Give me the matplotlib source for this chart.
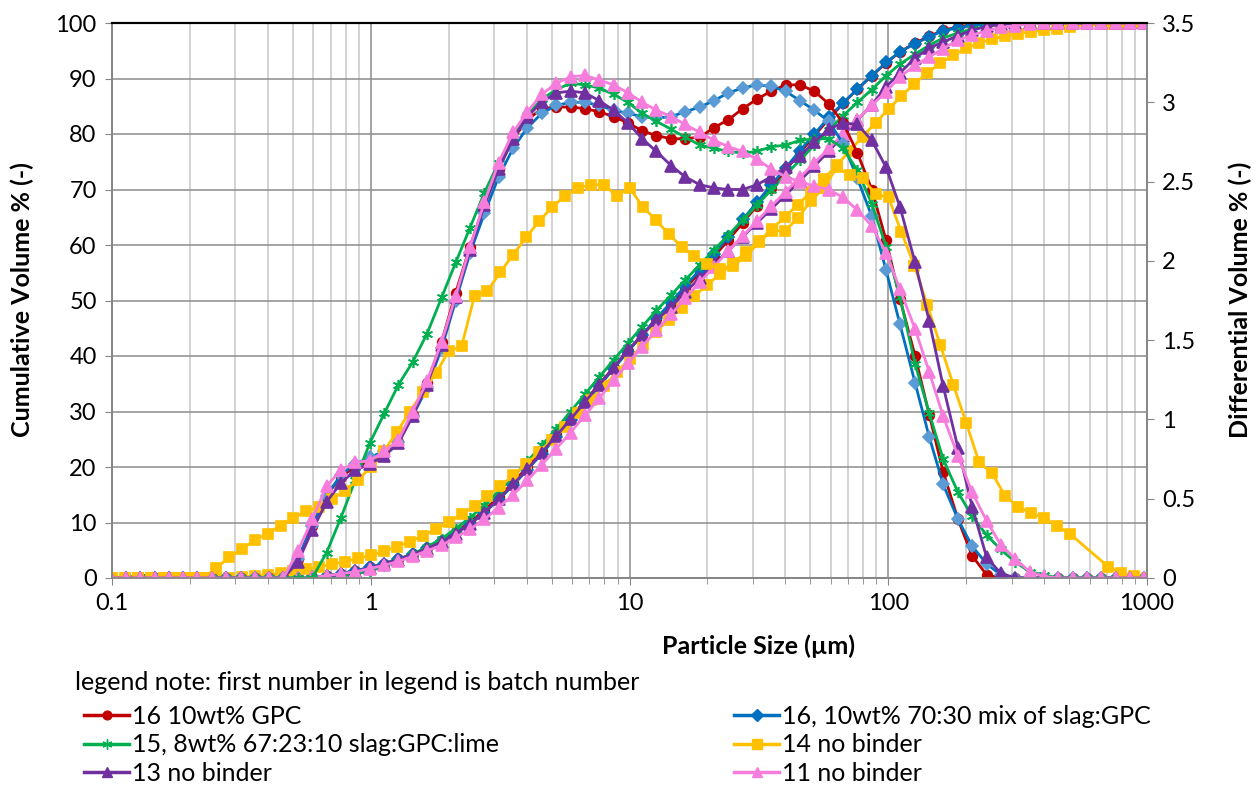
import matplotlib
matplotlib.use("Agg")
import matplotlib.pyplot as plt
from matplotlib.lines import Line2D
from matplotlib.ticker import FixedLocator, FuncFormatter, LogLocator, NullFormatter

plt.rcParams['font.family'] = ['Lato', 'DejaVu Sans']

# size classes (um) - instrument grid used by batches 11, 13, 15, 16
size_a = [0.0995, 0.113, 0.128, 0.146, 0.166, 0.188, 0.214, 0.243, 0.276, 0.314,
          0.357, 0.405, 0.46, 0.523, 0.594, 0.675, 0.767, 0.872, 0.991, 1.13,
          1.28, 1.45, 1.65, 1.88, 2.13, 2.42, 2.75, 3.12, 3.55, 4.03,
          4.58, 5.21, 5.92, 6.72, 7.64, 8.68, 9.86, 11.2, 12.7, 14.5,
          16.4, 18.7, 21.2, 24.1, 27.4, 31.1, 35.3, 40.1, 45.6, 51.8,
          58.9, 66.9, 76.0, 86.4, 98.1, 111, 127, 144, 163, 186,
          211, 240, 272, 310, 352, 400, 454, 516, 586, 666,
          756, 859, 976]

# size classes (um) - grid used by batch 14
size_b = [0.100, 0.112, 0.126, 0.142, 0.159, 0.178, 0.200, 0.224, 0.252, 0.283,
          0.317, 0.356, 0.399, 0.448, 0.502, 0.564, 0.632, 0.710, 0.796, 0.893,
          1.002, 1.125, 1.262, 1.416, 1.589, 1.783, 2.000, 2.244, 2.518, 2.825,
          3.170, 3.557, 3.991, 4.477, 5.024, 5.637, 6.325, 7.096, 7.962, 8.934,
          10.024, 11.247, 12.619, 14.159, 15.887, 17.825, 20.000, 22.440, 25.179, 28.251,
          31.698, 35.566, 39.905, 44.774, 50.238, 56.368, 63.246, 70.963, 79.621, 89.337,
          100.237, 112.468, 126.191, 141.589, 158.866, 178.250, 200.000, 224.404, 251.785, 282.508,
          316.979, 355.656, 399.052, 447.744, 502.377, 709.627, 796.214, 893.367, 1002.374]

# cumulative volume % (left axis)
cum_16_gpc = [0] * 14 + [
    0.1, 0.4, 0.8, 1.3, 1.9, 2.6, 3.4, 4.3, 5.4, 6.7,
    8.3, 10.1, 12.2, 14.6, 17.2, 20.0, 22.9, 25.9, 28.9, 31.9,
    34.9, 37.9, 40.9, 43.8, 46.6, 49.4, 52.2, 55.0, 57.9, 60.9,
    64.0, 67.1, 70.3, 73.5, 76.6, 79.7, 82.7, 85.5, 88.1, 90.5,
    92.8, 94.8, 96.4, 97.6, 98.7, 99.3, 99.7, 99.9] + [100] * 11
cum_16_mix = [0] * 14 + [
    0.1, 0.4, 0.8, 1.3, 1.9, 2.6, 3.4, 4.3, 5.4, 6.6,
    8.1, 9.8, 11.8, 14.1, 16.7, 19.5, 22.4, 25.4, 28.4, 31.5,
    34.6, 37.7, 40.8, 43.8, 46.8, 49.7, 52.6, 55.5, 58.4, 61.5,
    64.6, 67.7, 70.8, 73.9, 77.0, 80.0, 83.0, 85.6, 88.1, 90.5,
    92.9, 94.8, 96.3, 97.5, 98.6, 99.1, 99.6, 99.8] + [100] * 11
cum_15 = [0] * 15 + [
    0.1, 0.3, 0.7, 1.3, 2.1, 3.1, 4.3, 5.6, 7.1, 8.9,
    10.9, 13.1, 15.6, 18.2, 21.0, 23.9, 26.9, 30.0, 33.1, 36.2,
    39.3, 42.3, 45.3, 48.2, 51.0, 53.7, 56.4, 59.1, 61.8, 64.5,
    67.2, 69.9, 72.6, 75.3, 78.0, 80.7, 83.3, 85.7, 88.0, 90.5,
    92.6, 94.4, 96.0, 97.3, 98.2, 98.9, 99.4, 99.7, 99.9] + [100] * 9
cum_14 = [0] * 9 + [
    0.06, 0.19, 0.37, 0.61, 0.89, 1.22, 1.60, 2.02, 2.47, 2.97,
    3.52, 4.14, 4.84, 5.64, 6.56, 7.61, 8.78, 10.07, 11.50, 12.96,
    14.74, 16.55, 18.48, 20.52, 22.67, 24.92, 27.26, 29.67, 32.13, 34.61,
    37.09, 39.50, 41.96, 44.30, 46.56, 48.73, 50.82, 52.85, 54.83, 56.78,
    58.75, 60.78, 62.90, 65.09, 67.28, 69.55, 71.93, 74.39, 76.98, 79.52,
    82.04, 84.46, 86.86, 89.04, 91.01, 92.73, 94.20, 95.42, 96.40, 97.13,
    97.6, 98.1, 98.4, 98.7, 99.0, 99.3, 99.8, 99.9, 100, 100]
cum_13 = [0] * 14 + [
    0.1, 0.3, 0.7, 1.2, 1.8, 2.5, 3.3, 4.2, 5.3, 6.5,
    8.0, 9.7, 11.8, 14.2, 16.9, 19.6, 22.6, 25.6, 28.6, 31.7,
    34.8, 37.9, 41.0, 43.8, 46.4, 48.9, 51.5, 54.0, 56.5, 59.0,
    61.5, 64.0, 66.5, 69.0, 71.6, 74.2, 76.9, 79.7, 82.5, 85.3,
    88.5, 91.0, 93.7, 95.5, 96.6, 97.7, 98.7, 99.4, 99.8] + [100] * 10
cum_11 = [0] * 14 + [
    0.1, 0.4, 0.8, 1.1, 1.7, 2.3, 3.0, 3.9, 4.9, 5.9,
    7.3, 8.8, 10.6, 12.7, 15.0, 17.6, 20.4, 23.3, 26.2, 29.3,
    32.4, 35.6, 38.7, 41.7, 44.6, 47.5, 50.4, 53.3, 56.1, 58.9,
    61.6, 64.3, 67.0, 69.6, 72.2, 74.8, 77.4, 80.0, 82.6, 85.2,
    87.6, 90.3, 92.4, 93.9, 95.4, 96.9, 97.8, 98.6, 99.2, 99.5,
    99.8] + [100] * 8

# differential volume % (right axis)
dif_16_gpc = [0] * 13 + [
    0.12, 0.33, 0.52, 0.64, 0.70, 0.73, 0.78, 0.86, 1.03, 1.23,
    1.49, 1.80, 2.09, 2.36, 2.58, 2.77, 2.89, 2.96, 2.97, 2.97,
    2.96, 2.94, 2.91, 2.87, 2.82, 2.79, 2.77, 2.77, 2.78, 2.84,
    2.89, 2.96, 3.02, 3.07, 3.11, 3.11, 3.07, 2.99, 2.87, 2.68,
    2.45, 2.13, 1.76, 1.40, 1.03, 0.67, 0.37, 0.14, 0.02] + [0] * 11
dif_16_mix = [0] * 13 + [
    0.12, 0.33, 0.52, 0.65, 0.72, 0.76, 0.80, 0.86, 1.02, 1.20,
    1.45, 1.75, 2.05, 2.30, 2.53, 2.71, 2.84, 2.93, 2.98, 3.00,
    3.00, 2.98, 2.95, 2.93, 2.91, 2.90, 2.91, 2.94, 2.97, 3.01,
    3.06, 3.09, 3.11, 3.10, 3.07, 3.01, 2.95, 2.88, 2.74, 2.52,
    2.28, 1.94, 1.60, 1.23, 0.89, 0.59, 0.37, 0.20, 0.09, 0.02] + [0] * 10
dif_15 = [0] * 15 + [
    0.16, 0.38, 0.62, 0.85, 1.04, 1.22, 1.36, 1.54, 1.77, 1.99,
    2.21, 2.43, 2.62, 2.79, 2.92, 3.02, 3.08, 3.12, 3.11, 3.09,
    3.05, 3.00, 2.93, 2.88, 2.83, 2.78, 2.73, 2.71, 2.69, 2.68,
    2.69, 2.72, 2.73, 2.76, 2.77, 2.77, 2.71, 2.57, 2.36, 2.09,
    1.77, 1.35, 1.04, 0.75, 0.54, 0.39, 0.27, 0.18, 0.10, 0.04,
    0.02] + [0] * 7
dif_14 = [0] * 8 + [
    0.06, 0.13, 0.18, 0.24, 0.28, 0.33, 0.38, 0.42, 0.45, 0.50,
    0.55, 0.62, 0.70, 0.80, 0.92, 1.05, 1.17, 1.29, 1.43, 1.46,
    1.78, 1.81, 1.93, 2.04, 2.15, 2.25, 2.34, 2.41, 2.46, 2.48,
    2.48, 2.41, 2.46, 2.34, 2.26, 2.17, 2.09, 2.03, 1.98, 1.95,
    1.97, 2.03, 2.12, 2.19, 2.19, 2.27, 2.38, 2.46, 2.59, 2.54,
    2.52, 2.42, 2.40, 2.18, 1.97, 1.72, 1.47, 1.22, 0.98, 0.73,
    0.66, 0.52, 0.45, 0.41, 0.38, 0.33, 0.28, 0.07, 0.03, 0.01,
    0.0]
dif_13 = [0] * 13 + [
    0.10, 0.30, 0.48, 0.60, 0.68, 0.72, 0.77, 0.85, 1.02, 1.22,
    1.47, 1.77, 2.07, 2.35, 2.58, 2.77, 2.91, 3.00, 3.06, 3.07,
    3.06, 3.01, 2.95, 2.87, 2.77, 2.69, 2.60, 2.53, 2.48, 2.46,
    2.45, 2.45, 2.48, 2.53, 2.59, 2.66, 2.75, 2.83, 2.87, 2.86,
    2.76, 2.59, 2.34, 1.99, 1.62, 1.21, 0.82, 0.45, 0.13, 0.03] + [0] * 10
dif_11 = [0] * 13 + [
    0.17, 0.37, 0.58, 0.68, 0.73, 0.74, 0.80, 0.87, 1.05, 1.24,
    1.49, 1.78, 2.09, 2.37, 2.62, 2.81, 2.94, 3.05, 3.12, 3.16,
    3.17, 3.14, 3.11, 3.06, 3.00, 2.95, 2.91, 2.86, 2.81, 2.76,
    2.72, 2.69, 2.64, 2.58, 2.53, 2.50, 2.47, 2.45, 2.40, 2.32,
    2.22, 2.05, 1.82, 1.57, 1.30, 1.02, 0.77, 0.54, 0.36, 0.21,
    0.12, 0.04, 0.01] + [0] * 7

labels = ["16 10wt% GPC", "16, 10wt% 70:30 mix of slag:GPC",
          "15, 8wt% 67:23:10 slag:GPC:lime", "14 no binder",
          "13 no binder", "11 no binder"]

asterisk = (6, 2, 0)
series = [
    # x, cumulative, differential, line colour, marker, marker colour (cum, diff), size
    (size_a, cum_16_gpc, dif_16_gpc, '#C00000', 'o', '#C00000', '#C00000', 7),
    (size_a, cum_16_mix, dif_16_mix, '#0070C0', 'D', '#0070C0', '#5B9BD5', 6.5),
    (size_a, cum_15, dif_15, '#00B050', asterisk, '#00B050', '#00B050', 8),
    (size_b, cum_14, dif_14, '#FFC000', 's', '#FFC000', '#FFC000', 7.5),
    (size_a, cum_13, dif_13, '#7030A0', '^', '#7030A0', '#7030A0', 8),
    (size_a, cum_11, dif_11, '#F67DDC', '^', '#F67DDC', '#F67DDC', 8),
]

fs_tick = 17
fs_title = 18
fs_legend = 18

fig = plt.figure(figsize=(12.6, 7.85), dpi=100)
ax = fig.add_axes([112 / 1260, 1 - 578 / 785, (1147 - 112) / 1260, (578 - 23) / 785])
ax2 = ax.twinx()

for x, cum, dif, lc, mk, mc1, mc2, ms in series:
    ax.plot(x, cum, color=lc, lw=2, marker=mk, ms=ms, mfc=mc1, mec=mc1, mew=1.2)
    ax2.plot(x, dif, color=lc, lw=2, marker=mk, ms=ms, mfc=mc2, mec=mc2, mew=1.2)

ax.set_xscale('log')
ax.set_xlim(0.1, 1000)
ax.set_ylim(0, 100)
ax2.set_ylim(0, 3.5)
ax.set_yticks(range(0, 101, 10))
ax2.set_yticks([0, 0.5, 1, 1.5, 2, 2.5, 3, 3.5])
ax2.set_yticklabels(['0', '0.5', '1', '1.5', '2', '2.5', '3', '3.5'])
ax.xaxis.set_major_locator(FixedLocator([0.1, 1, 10, 100, 1000]))
ax.xaxis.set_major_formatter(FuncFormatter(lambda v, p: f'{v:g}'))
ax.xaxis.set_minor_locator(LogLocator(base=10, subs=range(2, 10)))
ax.xaxis.set_minor_formatter(NullFormatter())

ax.grid(which='major', axis='both', color='#8C8C8C', lw=1.1)
ax.grid(which='minor', axis='x', color='#C6C6C6', lw=1.1)
ax.set_axisbelow(True)

for a in (ax, ax2):
    for side in ('left', 'right', 'bottom'):
        a.spines[side].set_color('#868686')
        a.spines[side].set_linewidth(1.2)
    a.spines['top'].set_color('black')
    a.spines['top'].set_linewidth(1.5)
ax.tick_params(which='major', direction='out', length=5, color='#868686', labelsize=fs_tick, pad=6)
ax.tick_params(which='minor', direction='out', length=4, color='#868686')
ax2.tick_params(direction='out', length=5, color='#868686', labelsize=fs_tick, pad=6)

fig.text(758 / 1260, 1 - 646 / 785, 'Particle Size (µm)', ha='center', va='center',
         fontsize=fs_title, fontweight='bold')
fig.text(22 / 1260, 1 - 300 / 785, 'Cumulative Volume % (-)', ha='center', va='center',
         rotation=90, fontsize=fs_title, fontweight='bold')
fig.text(1240 / 1260, 1 - 300 / 785, 'Differential Volume % (-)', ha='center', va='center',
         rotation=90, fontsize=fs_title, fontweight='bold')
fig.text(75 / 1260, 1 - 683 / 785, 'legend note: first number in legend is batch number',
         ha='left', va='center', fontsize=fs_legend)

handles = [Line2D([], [], color=s[3], lw=2.5, marker=s[4], ms=s[7] * 0.9,
                  mfc=s[5], mec=s[5]) for s in series]
left_idx, right_idx = [0, 2, 4], [1, 3, 5]
for idx, xpos in ((left_idx, 84), (right_idx, 734)):
    fig.legend([handles[i] for i in idx], [labels[i] for i in idx],
               loc='upper left', bbox_to_anchor=(xpos / 1260, 1 - 705 / 785),
               frameon=False, fontsize=fs_legend, handlelength=1.8, handletextpad=0.1,
               labelspacing=0.22, borderpad=0, borderaxespad=0)

fig.savefig('out.png', dpi=100)
